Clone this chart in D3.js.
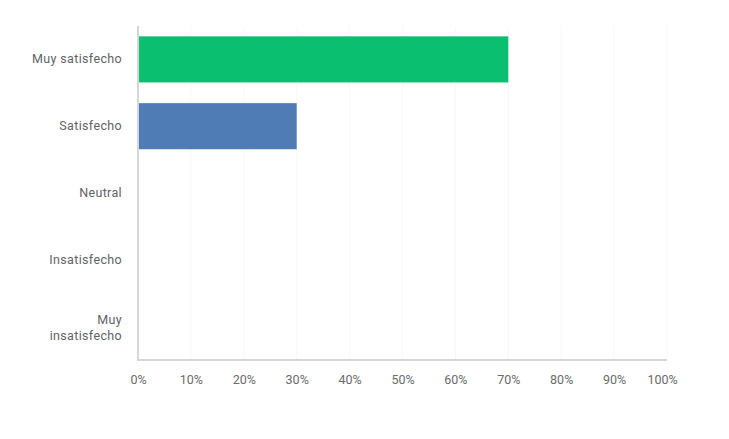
<!DOCTYPE html>
<html><head><meta charset="utf-8">
<script src="https://cdn.jsdelivr.net/npm/d3@7"></script>
<style>body{margin:0;background:#fff;}svg{display:block;font-family:Roboto,"Open Sans",sans-serif;}</style>
</head><body><svg id="c" width="729" height="439"></svg>
<script>
const categories = ["Muy satisfecho","Satisfecho","Neutral","Insatisfecho","Muy insatisfecho"];
const values = [70, 30, 0, 0, 0];
const barColors = ["#0abf6f","#507cb6","#999","#999","#999"];
const tickValues = [0,10,20,30,40,50,60,70,80,90,100];

const svg = d3.select("#c");
const m = {left:138, right:667, top:26, bottom:360};
const x = d3.scaleLinear().domain([0,100]).range([m.left, m.right]);
const y = d3.scaleBand().domain(categories).range([m.top, m.bottom]).paddingInner(0.31).paddingOuter(0.155);

// gridlines
svg.append("g").selectAll("line").data(tickValues.slice(1)).join("line")
  .attr("x1", d=>x(d)).attr("x2", d=>x(d)).attr("y1", m.top).attr("y2", m.bottom)
  .attr("stroke","#f8f8f8").attr("stroke-width",1);

// bars
svg.append("g").selectAll("rect").data(values).join("rect")
  .attr("x", x(0)).attr("y", (d,i)=>y(categories[i]))
  .attr("width", d=>x(d)-x(0)).attr("height", y.bandwidth())
  .attr("fill", (d,i)=>barColors[i]);

// y axis line
svg.append("line").attr("x1",m.left).attr("x2",m.left).attr("y1",m.top).attr("y2",m.bottom+1)
  .attr("stroke","#d6d6d6").attr("stroke-width",2);
// x axis line
svg.append("line").attr("x1",m.left-1).attr("x2",m.right).attr("y1",m.bottom).attr("y2",m.bottom)
  .attr("stroke","#d6d6d6").attr("stroke-width",2);

// x tick labels
const xa = d3.axisBottom(x).tickValues(tickValues).tickFormat(d=>d+"%").tickSize(0).tickPadding(0);
const gx = svg.append("g").attr("transform",`translate(0,${m.bottom+15})`).call(xa);
gx.select(".domain").remove();
gx.selectAll("text").attr("fill","#6b6b6b").attr("font-size","12.5px")
  .attr("font-family","Roboto, sans-serif")
  .attr("dx", d=> d===100 ? -5 : 0);

// y labels
const ya = d3.axisLeft(y).tickSize(0).tickPadding(16);
const gy = svg.append("g").attr("transform",`translate(${m.left},0)`).call(ya);
gy.select(".domain").remove();
gy.selectAll("text").attr("fill","#5f6368").attr("font-size","12.5px").attr("font-family","Roboto, sans-serif")
  .attr("letter-spacing","0.35px")
  .each(function(d){
    const t = d3.select(this);
    const words = d.split(" ");
    if (d === "Muy insatisfecho") {
      t.text(null);
      t.append("tspan").attr("x",-16).attr("dy","-0.2em").text(words[0]);
      t.append("tspan").attr("x",-16).attr("dy","1.25em").text(words[1]);
    }
  });
</script></body></html>
